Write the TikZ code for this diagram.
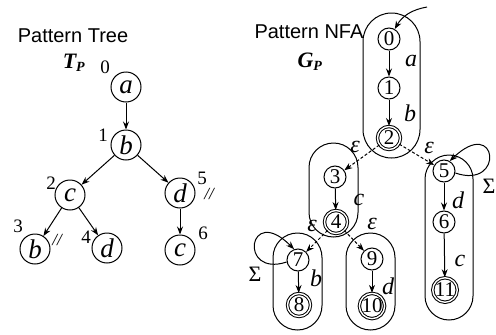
\documentclass[tikz,border=0pt]{standalone}
\usepackage{fontspec}
\setmainfont{Liberation Serif}
\newfontfamily\sansf{Liberation Sans}
\usetikzlibrary{arrows.meta}
\tikzset{
  tnode/.style={circle,draw,line width=1pt,minimum size=30pt,inner sep=0pt,font=\fontsize{27}{27}\selectfont\itshape},
  nnode/.style={circle,draw,line width=1pt,minimum size=22pt,inner sep=0pt,font=\fontsize{21}{21}\selectfont},
  fnode/.style={nnode,double,double distance=1.4pt,minimum size=23pt},
  edge/.style={line width=1pt,-{Stealth[length=8pt,width=6pt]}},
  eps/.style={edge,dashed,dash pattern=on 3pt off 2pt},
  caps/.style={line width=1pt},
  num/.style={font=\fontsize{19}{19}\selectfont,inner sep=0pt},
  lab/.style={font=\fontsize{24}{24}\selectfont\itshape,inner sep=0pt},
  title/.style={font=\sansf\fontsize{20}{20}\selectfont,inner sep=0pt},
  sym/.style={font=\fontsize{22}{22}\selectfont\bfseries\itshape,inner sep=0pt},
  slash/.style={font=\fontsize{17}{17}\selectfont\itshape,inner sep=0pt}
}
\begin{document}
\begin{tikzpicture}[x=1pt,y=-1pt]
\useasboundingbox (0,0) rectangle (496,335);
% titles
\node[title] (tt) at (73,36) {Pattern Tree};
\node[sym] (tp) at (74,63) {T\textsubscript{\fontsize{14}{14}\selectfont P}};
\node[title] (nt) at (309,32) {Pattern NFA};
\node[sym] (gp) at (310,62) {G\textsubscript{\fontsize{14}{14}\selectfont P}};
% tree
\node[tnode] (ta) at (126,87) {a};
\node[tnode] (tb) at (126,145) {b};
\node[tnode] (tc) at (70,195) {c};
\node[tnode] (td5) at (180,193) {d};
\node[tnode] (tb3) at (35,249) {b};
\node[tnode] (td4) at (107,248) {d};
\node[tnode] (tc6) at (180,250) {c};
\node[num] (l0) at (105,67) {0};
\node[num] (l1) at (103,135) {1};
\node[num] (l2) at (51,183) {2};
\node[num] (l5) at (202,178) {5};
\node[slash] (s5) at (209,194) {//};
\node[num] (l3) at (18,226) {3};
\node[slash] (s3) at (57,240) {//};
\node[num] (l4) at (86,237) {4};
\node[num] (l6) at (203,233) {6};
\draw[edge] (ta) -- (tb);
\draw[edge] (tb) -- (tc);
\draw[edge] (tb) -- (td5);
\draw[edge] (tc) -- (tb3);
\draw[edge] (tc) -- (td4);
\draw[edge] (td5) -- (tc6);
% capsules
\draw[caps,rounded corners=28.5pt] (363,13) rectangle (420,158);
\draw[caps,rounded corners=24.5pt] (309,143) rectangle (358,237);
\draw[caps,rounded corners=24pt] (425,155) rectangle (473,320);
\draw[caps,rounded corners=24.5pt] (273,233) rectangle (322,330);
\draw[caps,rounded corners=24.5pt] (346,233) rectangle (395,330);
% NFA nodes
\node[nnode] (n0) at (389,39) {0};
\node[nnode] (n1) at (389,88) {1};
\node[fnode] (n2) at (389,138) {2};
\node[nnode] (n3) at (335,177) {3};
\node[fnode] (n4) at (336,222) {4};
\node[nnode] (n5) at (444,171) {5};
\node[nnode] (n6) at (444,222) {6};
\node[fnode] (n11) at (445,290) {11};
\node[nnode] (n7) at (298,260) {7};
\node[fnode] (n8) at (299,305) {8};
\node[nnode] (n9) at (372,259) {9};
\node[fnode] (n10) at (372,306) {10};
% NFA edges
\coordinate (start) at (427,7);
\draw[edge] (start) to[out=190,in=60] (n0);
\draw[edge] (n0) -- (n1);
\draw[edge] (n1) -- (n2);
\draw[edge] (n3) -- (n4);
\draw[edge] (n5) -- (n6);
\draw[edge] (n6) -- (n11);
\draw[edge] (n7) -- (n8);
\draw[edge] (n9) -- (n10);
\draw[eps] (n2) -- (n3);
\draw[eps] (n2) -- (n5);
\draw[eps] (n4) -- (n7);
\draw[eps] (n4) -- (n9);
\draw[edge] (n5.-10) .. controls (505,190) and (498,115) .. (n5.60);
\draw[edge] (n7.190) .. controls (238,278) and (248,203) .. (n7.110);
% labels
\node[lab] (la) at (411,61) {a};
\node[lab] (lb) at (410,113) {b};
\node[lab] (lc) at (359,200) {c};
\node[lab] (e1) at (355,147) {ε};
\node[lab] (e2) at (429,148) {ε};
\node[lab,font=\fontsize{22}{22}\selectfont] (sg1) at (489,186) {Σ};
\node[lab] (ld) at (458,200) {d};
\node[lab] (lc2) at (460,261) {c};
\node[lab] (e3) at (312,226) {ε};
\node[lab] (e4) at (372,224) {ε};
\node[lab,font=\fontsize{22}{22}\selectfont] (sg2) at (255,274) {Σ};
\node[lab] (lb2) at (316,278) {b};
\node[lab] (ld2) at (388,286) {d};
\end{tikzpicture}
\end{document}
